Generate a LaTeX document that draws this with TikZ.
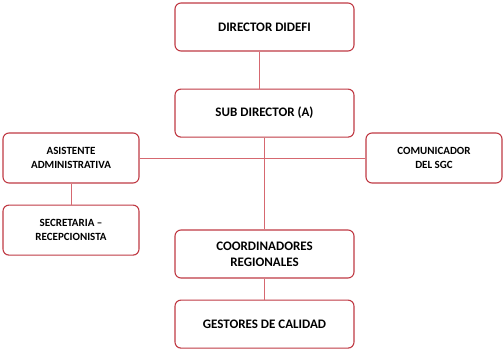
\documentclass[tikz,border=0pt]{standalone}
\usepackage{fontspec}
\setmainfont{Carlito}
\usepackage{tikz}
\usetikzlibrary{positioning}

\definecolor{boxred}{RGB}{192,58,68}
\definecolor{linkred}{RGB}{214,104,112}

\tikzset{
  bigbox/.style={draw=boxred, line width=1.1pt, rounded corners=6pt, fill=white,
    minimum width=179pt, minimum height=48pt, inner sep=0pt, align=center,
    font=\bfseries\fontsize{13}{16}\selectfont},
  smallbox/.style={bigbox, minimum width=136pt, minimum height=50pt,
    font=\bfseries\fontsize{11}{14}\selectfont},
  link/.style={draw=linkred, line width=0.8pt}
}

\begin{document}
\begin{tikzpicture}[x=1pt, y=-1pt]
    \useasboundingbox (0,0) rectangle (504,351);

    \node[bigbox] (dir) at (264.5,27) {DIRECTOR DIDEFI};
    \node[bigbox, below=37pt of dir] (sub) {SUB DIRECTOR (A)};

    \node[smallbox] (asis) at (71,158) {ASISTENTE\\ADMINISTRATIVA};
    \node[smallbox] (comu) at (434,158) {COMUNICADOR\\DEL SGC};
    \node[smallbox, below=21pt of asis] (sec) {SECRETARIA --\\RECEPCIONISTA};

    \node[bigbox] (coord) at (264.5,254) {COORDINADORES\\REGIONALES};
    \node[bigbox, below=21pt of coord] (gest) {GESTORES DE CALIDAD};

    \draw[link] ([xshift=-5.5pt]dir.south) -- ([xshift=-5.5pt]sub.north);
    \draw[link] (asis.east) -- (comu.west);
    \draw[link] (sub.south) -- (coord.north);
    \draw[link] (asis.south) -- (sec.north);
    \draw[link] (coord.south) -- (gest.north);
\end{tikzpicture}
\end{document}
